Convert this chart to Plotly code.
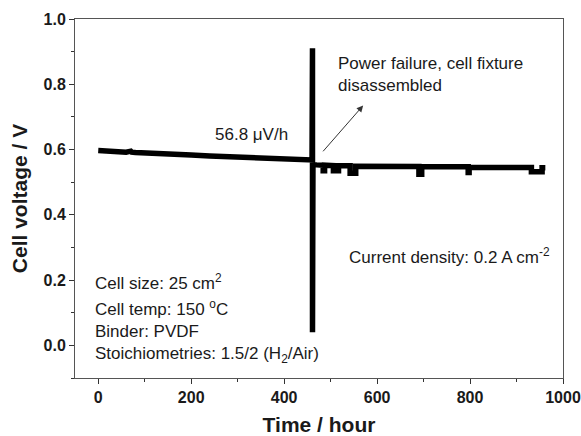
import plotly.graph_objects as go

# Time (hour) and cell voltage (V)
time_h = [0, 10, 20, 40, 60, 70, 72, 80, 100, 130, 160, 200, 240, 280, 320, 360, 400, 430, 460,
          461, 461, 461, 462,
          470, 480, 484, 484, 487, 487, 500, 506, 506, 517, 517, 530, 542, 542, 554, 554,
          600, 650, 690, 690, 696, 696, 750, 796, 796, 798, 798, 850, 900, 932, 932, 955, 955, 962]
voltage_v = [0.597, 0.596, 0.595, 0.594, 0.592, 0.595, 0.592, 0.591, 0.589, 0.587, 0.585, 0.583, 0.580, 0.578, 0.576, 0.574, 0.572, 0.570, 0.568,
             0.91, 0.04, 0.556, 0.554,
             0.553, 0.552, 0.552, 0.535, 0.535, 0.552, 0.551, 0.551, 0.535, 0.535, 0.550, 0.550, 0.550, 0.527, 0.527, 0.549,
             0.549, 0.548, 0.548, 0.524, 0.524, 0.548, 0.547, 0.547, 0.530, 0.530, 0.546, 0.546, 0.545, 0.545, 0.532, 0.532, 0.544, 0.544]

x_ticks = [0, 200, 400, 600, 800, 1000]
y_ticks = [0.0, 0.2, 0.4, 0.6, 0.8, 1.0]

info_lines = ["Cell size: 25 cm<sup>2</sup>", "Cell temp: 150 <sup>o</sup>C", "Binder: PVDF",
              "Stoichiometries: 1.5/2 (H<sub>2</sub>/Air)"]
info_y = [0.194, 0.114, 0.042, -0.028]

font = "Liberation Sans, Arial, sans-serif"
tcol = "#1a1a1a"
fs = 17

fig = go.Figure()
fig.add_trace(go.Scatter(x=time_h, y=voltage_v, mode="lines",
                         line=dict(color="black", width=5.5), showlegend=False))

ann = []
ann.append(dict(x=329, y=0.645, text="56.8 \u03bcV/h", showarrow=False, xanchor="center", yanchor="middle",
                font=dict(size=fs, family=font, color=tcol)))
ann.append(dict(x=511, y=0.865, text="Power failure, cell fixture", showarrow=False, xanchor="left",
                yanchor="middle", font=dict(size=fs, family=font, color=tcol)))
ann.append(dict(x=511, y=0.797, text="disassembled", showarrow=False, xanchor="left",
                yanchor="middle", font=dict(size=fs, family=font, color=tcol)))
ann.append(dict(x=570, y=0.735, ax=481, ay=0.59, axref="x", ayref="y", xref="x", yref="y", text="",
                showarrow=True, arrowhead=2, arrowsize=1.3, arrowwidth=1, arrowcolor="#333"))
ann.append(dict(x=535, y=0.274, text="Current density: 0.2 A cm<sup>-2</sup>", showarrow=False,
                xanchor="left", yanchor="middle", font=dict(size=fs, family=font, color=tcol)))
for t, yy in zip(info_lines, info_y):
    ann.append(dict(x=-11, y=yy, text=t, showarrow=False, xanchor="left", yanchor="middle",
                    font=dict(size=fs, family=font, color=tcol)))

fig.update_layout(
    width=581, height=436,
    margin=dict(l=75, r=18, t=19, b=58),
    plot_bgcolor="white", paper_bgcolor="white",
    font=dict(family=font, color="black"),
    annotations=ann,
)
fig.update_xaxes(range=[-50, 1000], tickvals=x_ticks, ticks="outside", ticklen=5, tickwidth=1,
                 tickcolor="#333", showline=True, linecolor="#555", linewidth=1, mirror=True,
                 showgrid=False, zeroline=False, automargin=False,
                 minor=dict(dtick=100, tick0=0, ticks="outside", ticklen=3, tickcolor="#333"),
                 tickfont=dict(size=16, family=font, color=tcol, weight="bold"),
                 title=dict(text="<b>Time / hour</b>", font=dict(size=21, family=font, color=tcol), standoff=13))
fig.update_yaxes(range=[-0.1, 1.0], tickvals=y_ticks, tickformat=".1f", ticks="outside", ticklen=5,
                 tickwidth=1, tickcolor="#333", showline=True, linecolor="#555", linewidth=1, mirror=True,
                 showgrid=False, zeroline=False, automargin=False,
                 minor=dict(dtick=0.1, tick0=0, ticks="outside", ticklen=3, tickcolor="#333"),
                 tickfont=dict(size=16, family=font, color=tcol, weight="bold"),
                 title=dict(text="<b>Cell voltage / V</b>", font=dict(size=21, family=font, color=tcol), standoff=10))

fig.write_html("out.html")
